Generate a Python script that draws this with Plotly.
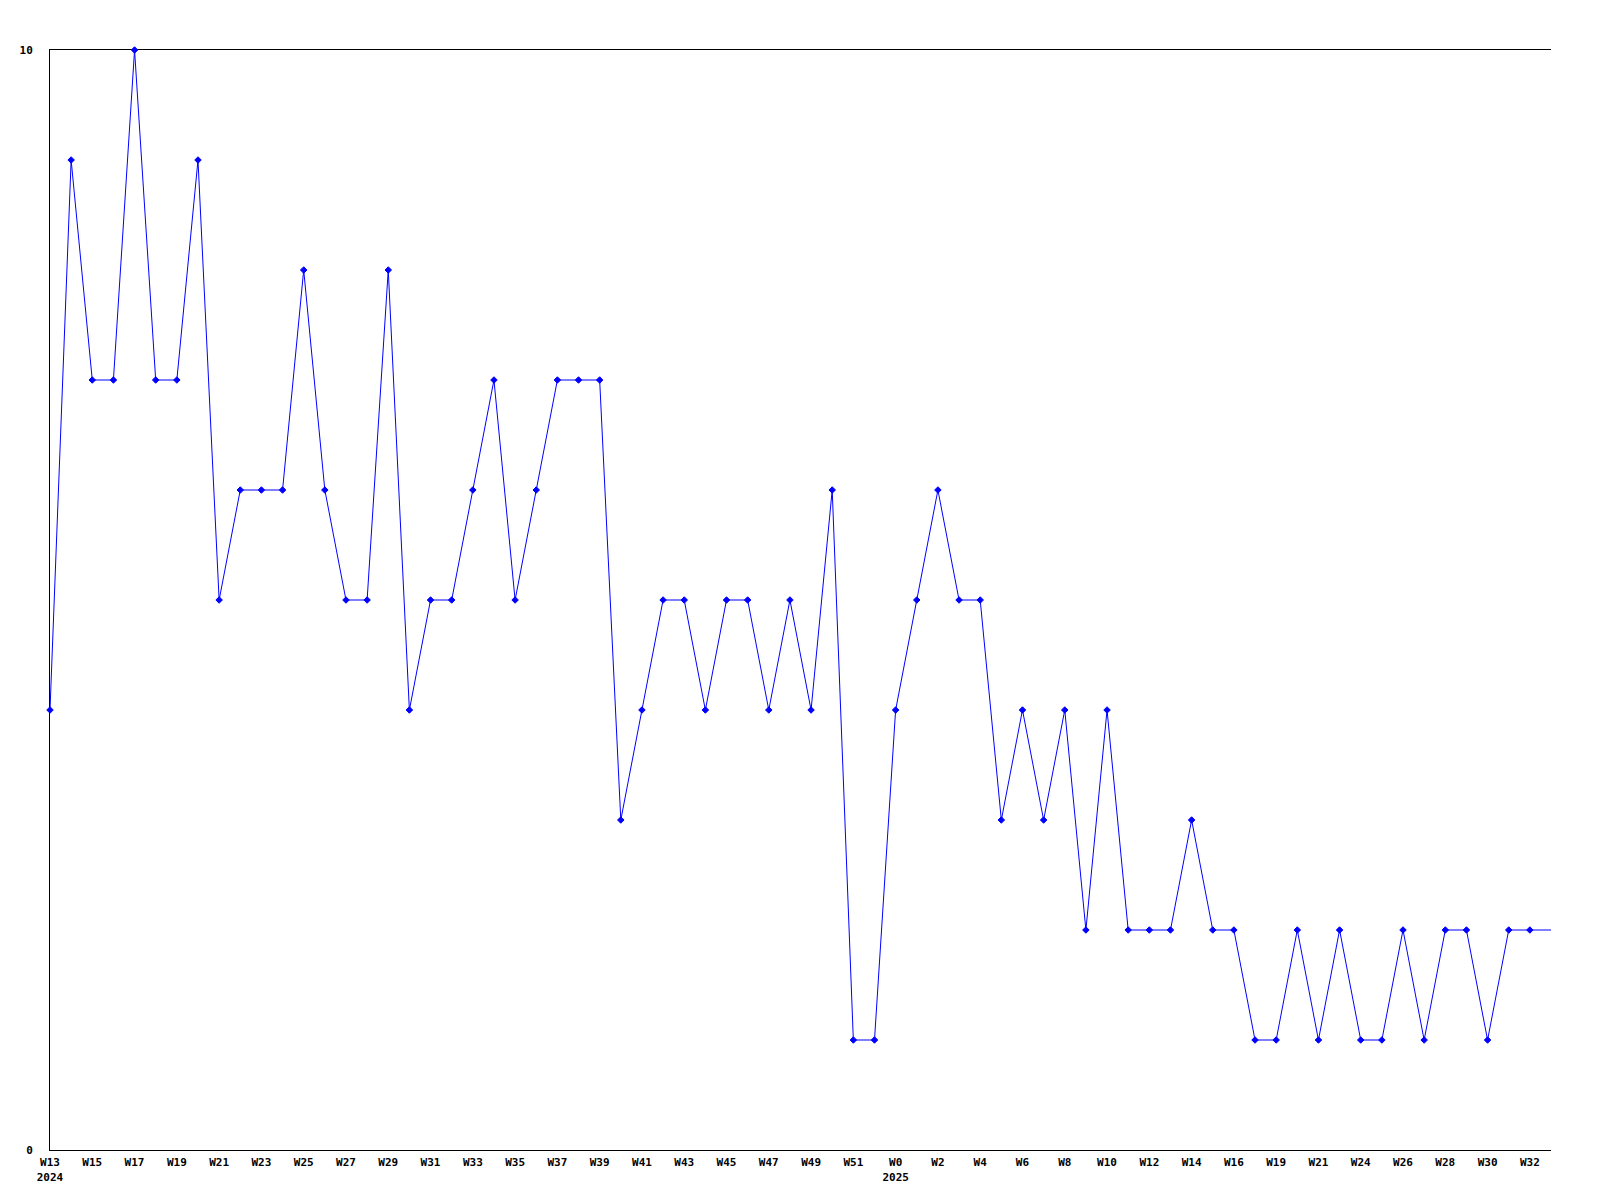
import plotly.graph_objects as go

# Weekly values (last entry = current partial week, drawn as line only)
values = [4, 9, 7, 7, 10, 7, 7, 9, 5, 6,
          6, 6, 8, 6, 5, 5, 8, 4, 5, 5,
          6, 7, 5, 6, 7, 7, 7, 3, 4, 5,
          5, 4, 5, 5, 4, 5, 4, 6, 1, 1,
          4, 5, 6, 5, 5, 3, 4, 3, 4, 2,
          4, 2, 2, 2, 3, 2, 2, 1, 1, 2,
          1, 2, 1, 1, 2, 1, 2, 2, 1, 2, 2,
          2]

tick_labels = ["W13<br>2024", "W15", "W17", "W19", "W21", "W23", "W25", "W27", "W29",
               "W31", "W33", "W35", "W37", "W39", "W41", "W43", "W45", "W47", "W49",
               "W51", "W0<br>2025", "W2", "W4", "W6", "W8", "W10", "W12", "W14", "W16",
               "W19", "W21", "W24", "W26", "W28", "W30", "W32"]

y_ticks = [0, 10]

n = len(values)
x = list(range(n))
tick_pos = list(range(0, 2 * len(tick_labels), 2))

fig = go.Figure()
fig.add_trace(go.Scatter(
    x=x, y=values, mode="lines",
    line=dict(color="#0000ff", width=1),
    cliponaxis=False, hoverinfo="skip", showlegend=False,
))
fig.add_trace(go.Scatter(
    x=x[:-1], y=values[:-1], mode="markers",
    marker=dict(color="#0000ff", size=5, symbol="diamond",
                line=dict(color="#0000ff", width=1)),
    cliponaxis=False, showlegend=False,
))

font = dict(family="DejaVu Sans Mono", size=11, color="#000000", weight="bold")

fig.update_layout(
    width=1592, height=1192,
    paper_bgcolor="white", plot_bgcolor="white",
    margin=dict(l=42, r=49, t=42, b=50),
    showlegend=False,
    xaxis=dict(
        range=[0, n - 1], tickmode="array", tickvals=tick_pos, ticktext=tick_labels,
        showgrid=False, zeroline=False, showline=True, linecolor="black", linewidth=1,
        mirror=True, ticks="", tickfont=font, tickangle=0, ticklabelstandoff=2,
        fixedrange=True, layer="below traces",
    ),
    yaxis=dict(
        range=[0, 10], tickmode="array", tickvals=y_ticks, ticktext=[str(v) for v in y_ticks],
        showgrid=False, zeroline=False, showline=True, linecolor="black", linewidth=1,
        ticks="", tickfont=font, ticklabelstandoff=14, fixedrange=True,
        layer="below traces",
    ),
)

fig.write_html("out.html")
